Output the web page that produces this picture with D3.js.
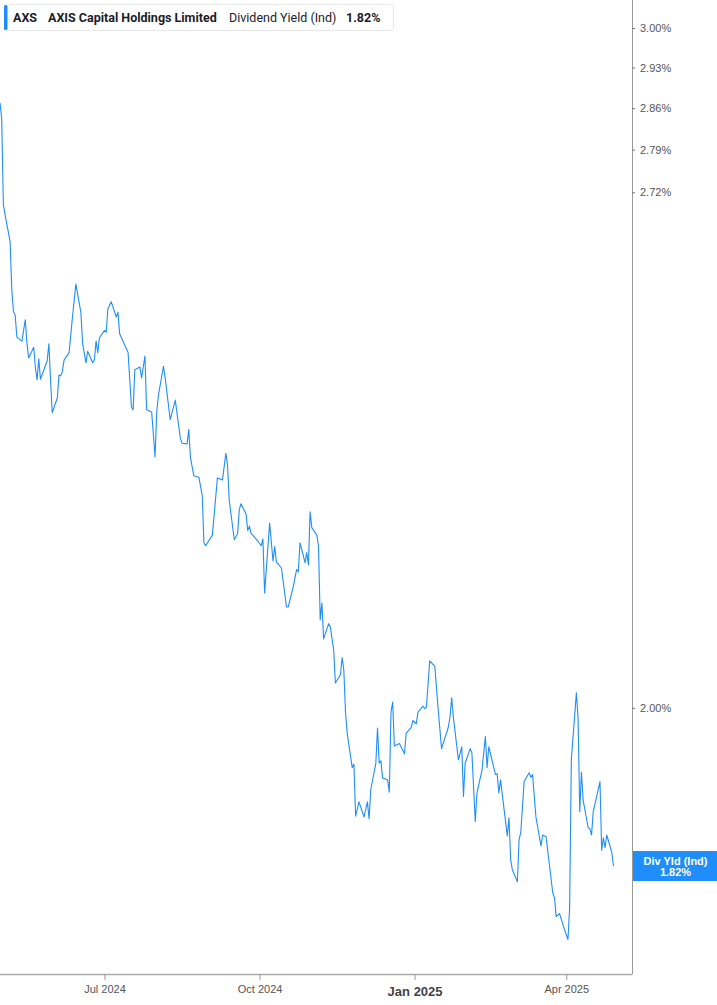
<!DOCTYPE html>
<html>
<head>
<meta charset="utf-8">
<script src="https://cdn.jsdelivr.net/npm/d3@7"></script>
<style>
  body { margin: 0; background: #fff; }
  svg { display: block; }
</style>
</head>
<body>
<svg id="chart"></svg>
<script>
const width = 717;
const height = 1005;
const plotRight = 632;
const plotBottom = 974;
const lineColor = "#1f8efa";

const dates = [
  "2024-04-30", "2024-05-01", "2024-05-02", "2024-05-03", "2024-05-06", "2024-05-07", "2024-05-08", "2024-05-09", "2024-05-10",
  "2024-05-13", "2024-05-15", "2024-05-16", "2024-05-17", "2024-05-20", "2024-05-21", "2024-05-22", "2024-05-23", "2024-05-24",
  "2024-05-28", "2024-05-29", "2024-05-30", "2024-05-31", "2024-06-03", "2024-06-04", "2024-06-05", "2024-06-06", "2024-06-07",
  "2024-06-10", "2024-06-12", "2024-06-14", "2024-06-17", "2024-06-18", "2024-06-20", "2024-06-21", "2024-06-24", "2024-06-25",
  "2024-06-26", "2024-06-27", "2024-06-28", "2024-07-01", "2024-07-02", "2024-07-03", "2024-07-05", "2024-07-08", "2024-07-09",
  "2024-07-10", "2024-07-15", "2024-07-17", "2024-07-18", "2024-07-19", "2024-07-22", "2024-07-23", "2024-07-25", "2024-07-26",
  "2024-07-29", "2024-07-31", "2024-08-01", "2024-08-02", "2024-08-05", "2024-08-06", "2024-08-09", "2024-08-12", "2024-08-15",
  "2024-08-16", "2024-08-19", "2024-08-20", "2024-08-21", "2024-08-23", "2024-08-26", "2024-08-28", "2024-08-29", "2024-08-30",
  "2024-09-03", "2024-09-06", "2024-09-09", "2024-09-11", "2024-09-12", "2024-09-13", "2024-09-16", "2024-09-18", "2024-09-19",
  "2024-09-20", "2024-09-23", "2024-09-24", "2024-09-25", "2024-09-26", "2024-09-27", "2024-09-30", "2024-10-02", "2024-10-03",
  "2024-10-04", "2024-10-07", "2024-10-09", "2024-10-10", "2024-10-11", "2024-10-14", "2024-10-15", "2024-10-17", "2024-10-18",
  "2024-10-21", "2024-10-23", "2024-10-24", "2024-10-25", "2024-10-28", "2024-10-29", "2024-10-30", "2024-10-31", "2024-11-01",
  "2024-11-04", "2024-11-05", "2024-11-06", "2024-11-07", "2024-11-08", "2024-11-11", "2024-11-12", "2024-11-14", "2024-11-15",
  "2024-11-18", "2024-11-19", "2024-11-20", "2024-11-21", "2024-11-22", "2024-11-25", "2024-11-26", "2024-11-27", "2024-11-29",
  "2024-12-02", "2024-12-04", "2024-12-05", "2024-12-06", "2024-12-09", "2024-12-10", "2024-12-11", "2024-12-12", "2024-12-13",
  "2024-12-16", "2024-12-17", "2024-12-18", "2024-12-19", "2024-12-20", "2024-12-23", "2024-12-24", "2024-12-26", "2024-12-27",
  "2024-12-30", "2024-12-31", "2025-01-02", "2025-01-03", "2025-01-06", "2025-01-07", "2025-01-08", "2025-01-10", "2025-01-13",
  "2025-01-15", "2025-01-17", "2025-01-21", "2025-01-22", "2025-01-23", "2025-01-24", "2025-01-27", "2025-01-29", "2025-01-30",
  "2025-01-31", "2025-02-03", "2025-02-04", "2025-02-06", "2025-02-07", "2025-02-10", "2025-02-12", "2025-02-13", "2025-02-14",
  "2025-02-18", "2025-02-19", "2025-02-20", "2025-02-21", "2025-02-25", "2025-02-26", "2025-02-27", "2025-02-28", "2025-03-03",
  "2025-03-04", "2025-03-05", "2025-03-07", "2025-03-10", "2025-03-11", "2025-03-12", "2025-03-14", "2025-03-17", "2025-03-18",
  "2025-03-20", "2025-03-24", "2025-03-25", "2025-03-26", "2025-03-28", "2025-03-31", "2025-04-02", "2025-04-03", "2025-04-04",
  "2025-04-07", "2025-04-08", "2025-04-09", "2025-04-10", "2025-04-11", "2025-04-14", "2025-04-15", "2025-04-16", "2025-04-17",
  "2025-04-21", "2025-04-22", "2025-04-23", "2025-04-24", "2025-04-25", "2025-04-28", "2025-04-29"
];

const divYield = [
  2.869, 2.843, 2.700, 2.684, 2.641, 2.566, 2.533, 2.528, 2.495,
  2.489, 2.521, 2.486, 2.464, 2.480, 2.450, 2.432, 2.463, 2.433,
  2.460, 2.485, 2.432, 2.385, 2.406, 2.439, 2.438, 2.444, 2.461,
  2.472, 2.525, 2.575, 2.532, 2.486, 2.457, 2.474, 2.457, 2.461,
  2.489, 2.472, 2.494, 2.505, 2.502, 2.537, 2.548, 2.525, 2.532,
  2.500, 2.472, 2.393, 2.389, 2.447, 2.451, 2.435, 2.467, 2.389,
  2.386, 2.323, 2.386, 2.410, 2.452, 2.435, 2.375, 2.403, 2.349,
  2.342, 2.341, 2.361, 2.322, 2.297, 2.295, 2.270, 2.207, 2.203,
  2.217, 2.294, 2.291, 2.328, 2.312, 2.264, 2.211, 2.219, 2.251,
  2.259, 2.245, 2.223, 2.229, 2.219, 2.217, 2.209, 2.203, 2.212,
  2.142, 2.233, 2.183, 2.202, 2.182, 2.174, 2.157, 2.124, 2.124,
  2.150, 2.172, 2.169, 2.207, 2.181, 2.194, 2.178, 2.248, 2.227,
  2.217, 2.202, 2.108, 2.129, 2.084, 2.103, 2.099, 2.070, 2.030,
  2.040, 2.061, 2.046, 1.995, 1.970, 1.930, 1.934, 1.875, 1.891,
  1.874, 1.891, 1.872, 1.905, 1.935, 1.976, 1.935, 1.938, 1.918,
  1.916, 1.902, 1.995, 2.007, 1.955, 1.958, 1.954, 1.946, 1.970,
  1.977, 1.985, 1.981, 1.995, 2.002, 1.999, 2.001, 2.057, 2.050,
  1.998, 1.952, 1.977, 1.989, 2.012, 1.989, 1.939, 1.954, 1.897,
  1.935, 1.952, 1.947, 1.869, 1.901, 1.927, 1.966, 1.930, 1.954,
  1.922, 1.923, 1.901, 1.916, 1.853, 1.873, 1.827, 1.816, 1.803,
  1.849, 1.857, 1.914, 1.924, 1.919, 1.922, 1.874, 1.842, 1.854,
  1.852, 1.791, 1.786, 1.766, 1.769, 1.752, 1.742, 1.776, 1.939,
  2.018, 1.988, 1.880, 1.925, 1.893, 1.862, 1.861, 1.854, 1.880,
  1.914, 1.837, 1.851, 1.840, 1.854, 1.835, 1.820
];

const yTicks = [3.00, 2.93, 2.86, 2.79, 2.72, 2.00];
const xTicks = ["2024-07-01", "2024-10-01", "2025-01-01", "2025-04-01"];
const xTickLabels = ["Jul 2024", "Oct 2024", "Jan 2025", "Apr 2025"];
const xDomain = ["2024-04-30", "2025-05-10"];
const yDomain = [1.7065, 3.0505];
const legendParts = ["AXS", "AXIS Capital Holdings Limited", "Dividend Yield (Ind)", "1.82%"];
const lastLabel = ["Div Yld (Ind)", "1.82%"];

const parseDate = d3.timeParse("%Y-%m-%d");
const series = dates.map((d, i) => ({ date: parseDate(d), value: divYield[i] }));

let svg = d3.select("#chart").attr("width", width).attr("height", height);

let x = d3.scaleTime().domain(xDomain.map(parseDate)).range([0, plotRight]);
let y = d3.scaleLog().domain(yDomain).range([plotBottom, 0]);

// right axis
let yAxis = svg
  .append("g")
  .attr("transform", `translate(${plotRight},0)`)
  .call(
    d3.axisRight(y)
      .tickValues(yTicks)
      .tickSize(3)
      .tickPadding(5)
      .tickFormat(d => d.toFixed(2) + "%")
  );
yAxis.select(".domain").attr("d", `M0.5,0V${plotBottom}`).attr("stroke", "#999");
yAxis.selectAll(".tick line").attr("stroke", "#777");
yAxis
  .selectAll(".tick text")
  .attr("fill", "#555")
  .style("font-family", "'Liberation Sans', Arial, sans-serif")
  .style("font-size", "11px");

// bottom axis
let xAxis = svg
  .append("g")
  .attr("transform", `translate(0,${plotBottom})`)
  .call(
    d3.axisBottom(x)
      .tickValues(xTicks.map(parseDate))
      .tickSize(6)
      .tickPadding(5)
      .tickFormat((d, i) => xTickLabels[i])
  );
xAxis.select(".domain").attr("d", `M0,0.5H${plotRight + 0.5}`).attr("stroke", "#aaa").attr("stroke-width", 1.5);
xAxis.selectAll(".tick line").attr("stroke", "#999");
xAxis
  .selectAll(".tick text")
  .attr("fill", "#555")
  .style("font-family", "'Liberation Sans', Arial, sans-serif")
  .style("font-size", "11px")
  .filter(d => d.getMonth() === 0)
  .attr("dy", "0.88em")
  .attr("fill", "#444")
  .style("font-weight", "bold")
  .style("font-size", "13px");

// line
svg
  .append("path")
  .datum(series)
  .attr("fill", "none")
  .attr("stroke", lineColor)
  .attr("stroke-width", 1.1)
  .attr("stroke-linejoin", "round")
  .attr("d", d3.line().x(d => x(d.date)).y(d => y(d.value)));

// last value label
let last = series[series.length - 1];
let labelG = svg.append("g").attr("transform", `translate(${plotRight},${y(last.value)})`);
labelG
  .append("rect")
  .attr("x", 1)
  .attr("y", -15)
  .attr("width", width - plotRight - 1)
  .attr("height", 30)
  .attr("fill", lineColor);
labelG
  .selectAll("text")
  .data(lastLabel)
  .enter()
  .append("text")
  .text(d => d)
  .attr("x", (width - plotRight) / 2 + 1)
  .attr("y", (d, i) => (i === 0 ? -1 : 10))
  .attr("text-anchor", "middle")
  .attr("fill", "#fff")
  .style("font-family", "'Liberation Sans', Arial, sans-serif")
  .style("font-weight", "bold")
  .style("font-size", "11px");

// legend
let legend = svg.append("g");
legend
  .append("rect")
  .attr("x", 4.5)
  .attr("y", 4.5)
  .attr("width", 389)
  .attr("height", 26)
  .attr("rx", 3)
  .attr("fill", "#fff")
  .attr("stroke", "#e8e8e8");
legend
  .append("rect")
  .attr("x", 4)
  .attr("y", 5)
  .attr("width", 3.5)
  .attr("height", 25)
  .attr("rx", 1.5)
  .attr("fill", lineColor);

const legendX = [13, 48, 229, 346];
legend
  .selectAll("text")
  .data(legendParts)
  .enter()
  .append("text")
  .text(d => d)
  .attr("x", (d, i) => legendX[i])
  .attr("y", 22)
  .attr("fill", "#1c1c28")
  .style("font-family", "Roboto, sans-serif")
  .style("font-size", "12.5px")
  .style("font-weight", (d, i) => (i === 2 ? "normal" : "bold"));
</script>
</body>
</html>
